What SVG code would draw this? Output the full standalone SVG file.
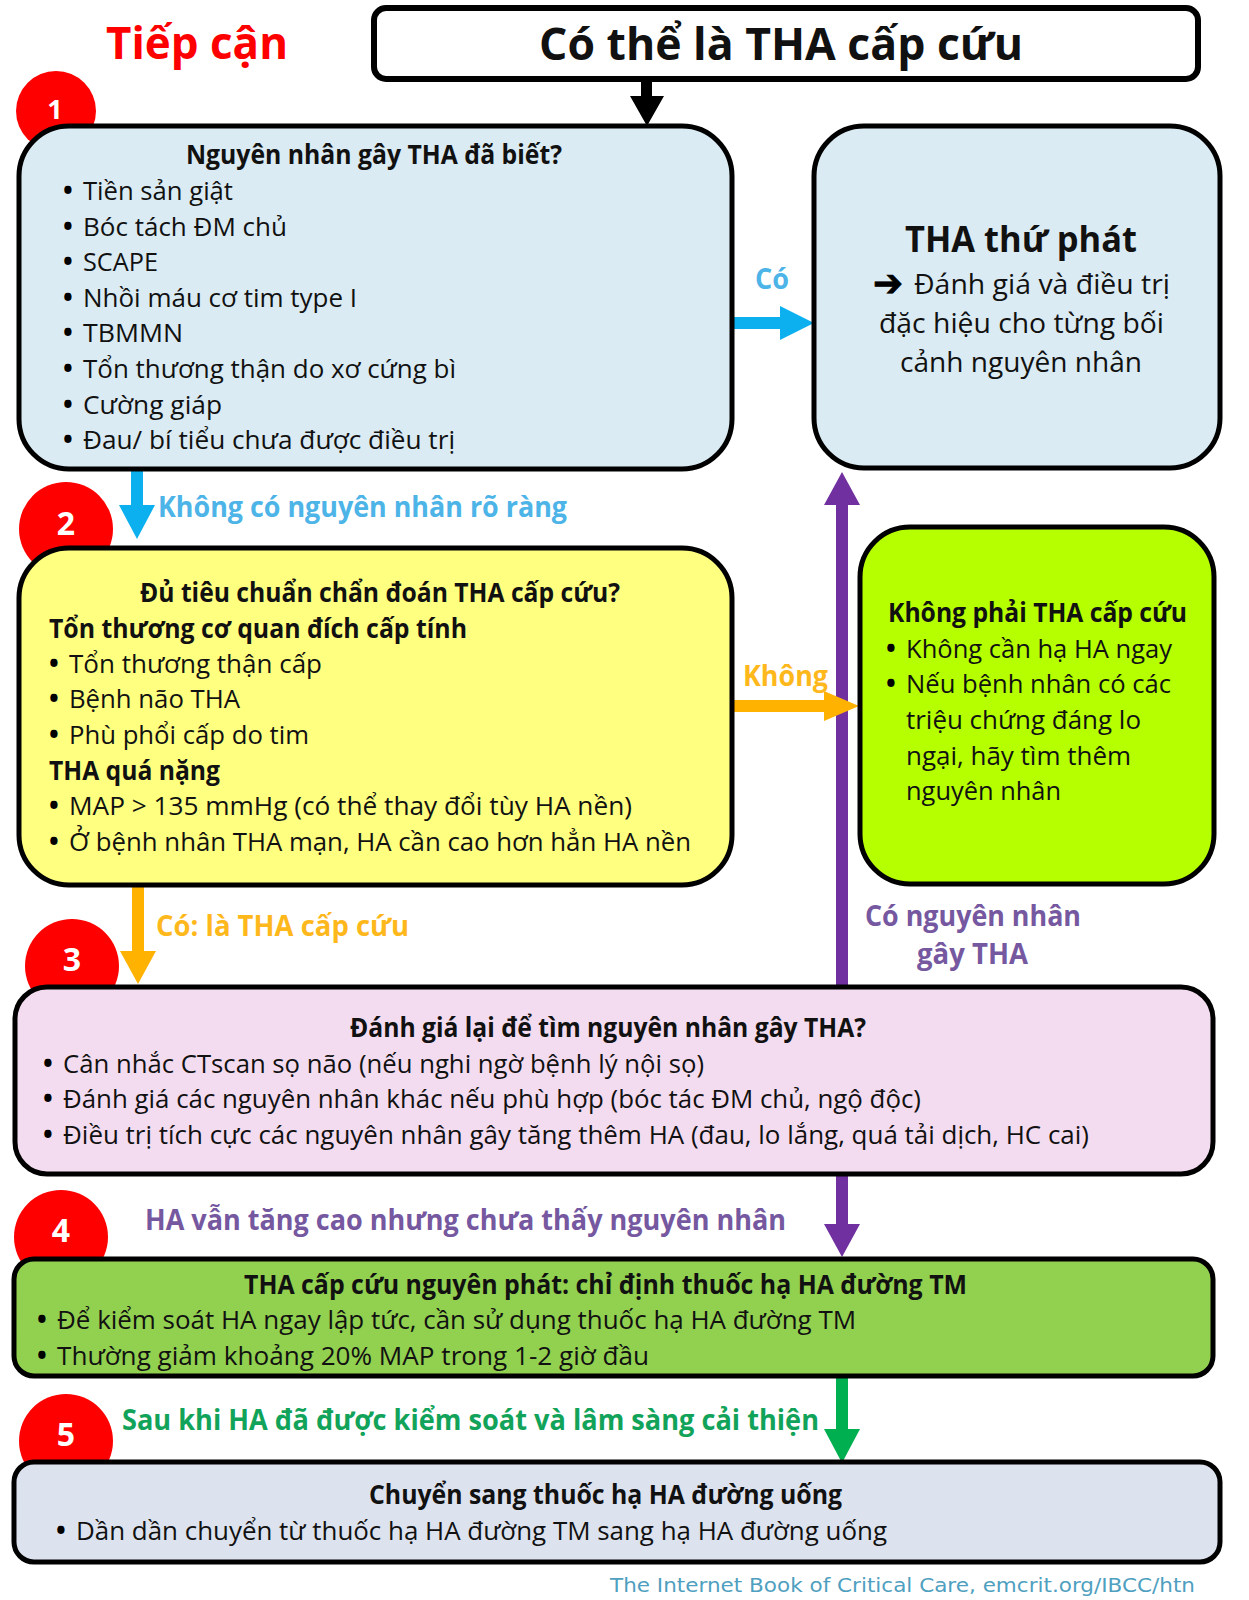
<svg xmlns="http://www.w3.org/2000/svg" width="1249" height="1600" viewBox="0 0 1249 1600">
<style>
text{font-family:"Open Sans","Noto Sans","Liberation Sans",sans-serif;fill:#111}
.b{font-size:26px}
.d{font-size:26px;font-weight:700;fill:#000}
.h{font-size:26px;font-weight:700}
.l{font-weight:700;font-size:28px}
.n{fill:#fff;font-weight:700;font-size:32px;text-anchor:middle}
.box{stroke:#000;stroke-width:5}
.c{fill:#f00}
</style>
<rect width="1249" height="1600" fill="#fff"/>
<g id="badges">
<circle class="c" cx="56" cy="111" r="40"/>
<circle class="c" cx="66" cy="529" r="47"/>
<circle class="c" cx="72" cy="966" r="47"/>
<circle class="c" cx="61" cy="1237" r="47"/>
<circle class="c" cx="66" cy="1441" r="47"/>
<text class="n" x="55" y="119" style="font-size:27px">1</text>
<text class="n" x="66" y="535">2</text>
<text class="n" x="72" y="971">3</text>
<text class="n" x="61" y="1242">4</text>
<text class="n" x="66" y="1446">5</text>
</g>
<g id="connectors">
<path fill="#000" d="M641 78h11v18h12l-17 30-17-30h11z"/>
<path fill="#0cb0ef" d="M131 470h12v35h12l-18 34-18-34h12z"/>
<path fill="#0cb0ef" d="M733 317h47v-11l34 17-34 17v-11h-47z"/>
<path fill="#7030a0" d="M836 987V505h-12l18-33 18 33h-12v482z"/>
<path fill="#ffb200" d="M733 700h91v-9l35 15-35 15v-9h-91z"/>
<path fill="#ffb200" d="M132 887h12v64h12l-18 33-18-33h12z"/>
<path fill="#7030a0" d="M836 1174h12v50h12l-18 33-18-33h12z"/>
<path fill="#00b050" d="M836 1376h12v53h12l-18 34-18-34h12z"/>
</g>
<g id="n0">
<text x="106" y="59" font-size="44" font-weight="700" style="fill:#f00" textLength="182" lengthAdjust="spacingAndGlyphs">Tiếp cận</text>
</g>
<g id="n1">
<rect class="box" x="374" y="8" width="824" height="71" rx="12" fill="#fff" style="stroke-width:6"/>
<text x="539" y="60" font-size="44" font-weight="700" textLength="484" lengthAdjust="spacingAndGlyphs">Có thể là THA cấp cứu</text>
</g>
<g id="n2">
<rect class="box" x="19" y="126" width="713" height="343" rx="50" fill="#dbebf3"/>
<text class="h" x="186" y="164" textLength="376" lengthAdjust="spacingAndGlyphs">Nguyên nhân gây THA đã biết?</text>
<text class="d" x="63" y="200">•</text><text class="b" x="83" y="200" textLength="150" lengthAdjust="spacingAndGlyphs">Tiền sản giật</text>
<text class="d" x="63" y="236">•</text><text class="b" x="83" y="236" textLength="204" lengthAdjust="spacingAndGlyphs">Bóc tách ĐM chủ</text>
<text class="d" x="63" y="271">•</text><text class="b" x="83" y="271" textLength="75" lengthAdjust="spacingAndGlyphs">SCAPE</text>
<text class="d" x="63" y="307">•</text><text class="b" x="83" y="307" textLength="274" lengthAdjust="spacingAndGlyphs">Nhồi máu cơ tim type I</text>
<text class="d" x="63" y="342">•</text><text class="b" x="83" y="342" textLength="100" lengthAdjust="spacingAndGlyphs">TBMMN</text>
<text class="d" x="63" y="378">•</text><text class="b" x="83" y="378" textLength="373" lengthAdjust="spacingAndGlyphs">Tổn thương thận do xơ cứng bì</text>
<text class="d" x="63" y="414">•</text><text class="b" x="83" y="414" textLength="139" lengthAdjust="spacingAndGlyphs">Cường giáp</text>
<text class="d" x="63" y="449">•</text><text class="b" x="83" y="449" textLength="372" lengthAdjust="spacingAndGlyphs">Đau/ bí tiểu chưa được điều trị</text>
</g>
<g id="n3">
<rect class="box" x="814" y="126" width="406" height="342" rx="50" fill="#dbebf3"/>
<text x="905" y="252" font-size="36" font-weight="700" textLength="232" lengthAdjust="spacingAndGlyphs">THA thứ phát</text>
<text x="873" y="296" font-size="38" style="font-family:'DejaVu Sans',sans-serif;fill:#000;stroke:#000;stroke-width:.8" textLength="30" lengthAdjust="spacingAndGlyphs">➔</text>
<text x="914" y="294" font-size="27" textLength="256" lengthAdjust="spacingAndGlyphs">Đánh giá và điều trị</text>
<text x="879" y="333" font-size="27" textLength="285" lengthAdjust="spacingAndGlyphs">đặc hiệu cho từng bối</text>
<text x="900" y="372" font-size="27" textLength="242" lengthAdjust="spacingAndGlyphs">cảnh nguyên nhân</text>
</g>
<g id="n4">
<rect class="box" x="19" y="548" width="713" height="337" rx="50" fill="#ffff80"/>
<text class="h" x="140" y="602" textLength="480" lengthAdjust="spacingAndGlyphs">Đủ tiêu chuẩn chẩn đoán THA cấp cứu?</text>
<text class="h" x="49" y="638" textLength="418" lengthAdjust="spacingAndGlyphs">Tổn thương cơ quan đích cấp tính</text>
<text class="d" x="49" y="673">•</text><text class="b" x="69" y="673" textLength="253" lengthAdjust="spacingAndGlyphs">Tổn thương thận cấp</text>
<text class="d" x="49" y="708">•</text><text class="b" x="69" y="708" textLength="171" lengthAdjust="spacingAndGlyphs">Bệnh não THA</text>
<text class="d" x="49" y="744">•</text><text class="b" x="69" y="744" textLength="240" lengthAdjust="spacingAndGlyphs">Phù phổi cấp do tim</text>
<text class="h" x="49" y="780" textLength="171" lengthAdjust="spacingAndGlyphs">THA quá nặng</text>
<text class="d" x="49" y="815">•</text><text class="b" x="69" y="815" textLength="563" lengthAdjust="spacingAndGlyphs">MAP &gt; 135 mmHg (có thể thay đổi tùy HA nền)</text>
<text class="d" x="49" y="851">•</text><text class="b" x="69" y="851" textLength="622" lengthAdjust="spacingAndGlyphs">Ở bệnh nhân THA mạn, HA cần cao hơn hẳn HA nền</text>
</g>
<g id="n5">
<rect class="box" x="860" y="527" width="354" height="357" rx="50" fill="#b6ff00"/>
<text class="h" x="888" y="622" textLength="299" lengthAdjust="spacingAndGlyphs">Không phải THA cấp cứu</text>
<text class="d" x="886" y="658">•</text><text class="b" x="906" y="658" textLength="266" lengthAdjust="spacingAndGlyphs">Không cần hạ HA ngay</text>
<text class="d" x="886" y="693">•</text><text class="b" x="906" y="693" textLength="265" lengthAdjust="spacingAndGlyphs">Nếu bệnh nhân có các</text>
<text class="b" x="906" y="729" textLength="235" lengthAdjust="spacingAndGlyphs">triệu chứng đáng lo</text>
<text class="b" x="906" y="765" textLength="225" lengthAdjust="spacingAndGlyphs">ngại, hãy tìm thêm</text>
<text class="b" x="906" y="800" textLength="155" lengthAdjust="spacingAndGlyphs">nguyên nhân</text>
</g>
<g id="n6">
<rect class="box" x="15" y="987" width="1198" height="187" rx="32" fill="#f4dcf0"/>
<text class="h" x="350" y="1037" textLength="516" lengthAdjust="spacingAndGlyphs">Đánh giá lại để tìm nguyên nhân gây THA?</text>
<text class="d" x="43" y="1073">•</text><text class="b" x="63" y="1073" textLength="641" lengthAdjust="spacingAndGlyphs">Cân nhắc CTscan sọ não (nếu nghi ngờ bệnh lý nội sọ)</text>
<text class="d" x="43" y="1108">•</text><text class="b" x="63" y="1108" textLength="858" lengthAdjust="spacingAndGlyphs">Đánh giá các nguyên nhân khác nếu phù hợp (bóc tác ĐM chủ, ngộ độc)</text>
<text class="d" x="43" y="1144">•</text><text class="b" x="63" y="1144" textLength="1026" lengthAdjust="spacingAndGlyphs">Điều trị tích cực các nguyên nhân gây tăng thêm HA (đau, lo lắng, quá tải dịch, HC cai)</text>
</g>
<g id="n7">
<rect class="box" x="14" y="1259" width="1199" height="117" rx="20" fill="#92d050"/>
<text class="h" x="244" y="1294" textLength="723" lengthAdjust="spacingAndGlyphs">THA cấp cứu nguyên phát: chỉ định thuốc hạ HA đường TM</text>
<text class="d" x="37" y="1329">•</text><text class="b" x="57" y="1329" textLength="799" lengthAdjust="spacingAndGlyphs">Để kiểm soát HA ngay lập tức, cần sử dụng thuốc hạ HA đường TM</text>
<text class="d" x="37" y="1365">•</text><text class="b" x="57" y="1365" textLength="592" lengthAdjust="spacingAndGlyphs">Thường giảm khoảng 20% MAP trong 1-2 giờ đầu</text>
</g>
<g id="n8">
<rect class="box" x="14" y="1462" width="1206" height="100" rx="20" fill="#dde3ee"/>
<text class="h" x="369" y="1504" textLength="473" lengthAdjust="spacingAndGlyphs">Chuyển sang thuốc hạ HA đường uống</text>
<text class="d" x="56" y="1540">•</text><text class="b" x="76" y="1540" textLength="811" lengthAdjust="spacingAndGlyphs">Dần dần chuyển từ thuốc hạ HA đường TM sang hạ HA đường uống</text>
</g>
<g id="labels">
<text class="l" x="755" y="289" style="fill:#4db4e8" textLength="34" lengthAdjust="spacingAndGlyphs">Có</text>
<text class="l" x="158" y="517" style="fill:#4db4e8" textLength="409" lengthAdjust="spacingAndGlyphs">Không có nguyên nhân rõ ràng</text>
<text class="l" x="743" y="686" style="fill:#ffb81c" textLength="85" lengthAdjust="spacingAndGlyphs">Không</text>
<text class="l" x="156" y="936" style="fill:#ffb81c" textLength="253" lengthAdjust="spacingAndGlyphs">Có: là THA cấp cứu</text>
<text class="l" x="865" y="926" style="fill:#75589f" textLength="216" lengthAdjust="spacingAndGlyphs">Có nguyên nhân</text>
<text class="l" x="917" y="964" style="fill:#75589f" textLength="111" lengthAdjust="spacingAndGlyphs">gây THA</text>
<text class="l" x="145" y="1230" style="fill:#75589f" textLength="641" lengthAdjust="spacingAndGlyphs">HA vẫn tăng cao nhưng chưa thấy nguyên nhân</text>
<text class="l" x="122" y="1430" style="fill:#12a35a" textLength="697" lengthAdjust="spacingAndGlyphs">Sau khi HA đã được kiểm soát và lâm sàng cải thiện</text>
<text x="610" y="1592" font-size="20" style="font-family:'DejaVu Sans',sans-serif;fill:#4f9fc0" textLength="585" lengthAdjust="spacingAndGlyphs">The Internet Book of Critical Care, emcrit.org/IBCC/htn</text>
</g>
</svg>
